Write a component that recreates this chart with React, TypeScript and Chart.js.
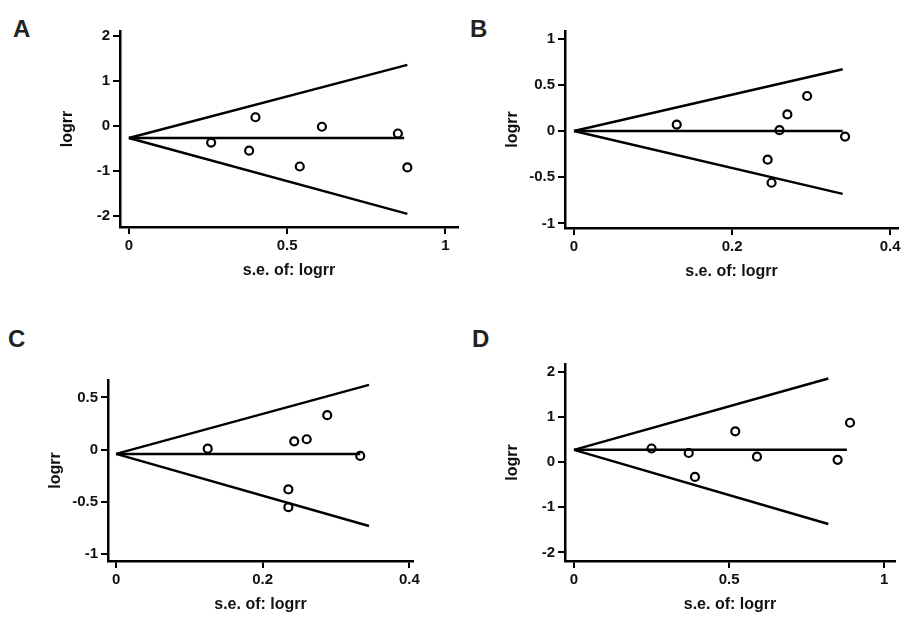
import { useEffect, useRef } from "react";
import { Chart, registerables } from "chart.js";

Chart.register(...registerables);

// Panel A
const seA = [0.26, 0.38, 0.4, 0.54, 0.61, 0.85, 0.88];
const lrA = [-0.37, -0.55, 0.19, -0.9, -0.02, -0.17, -0.92];
// Panel B
const seB = [0.13, 0.245, 0.25, 0.26, 0.27, 0.295, 0.343];
const lrB = [0.07, -0.31, -0.56, 0.01, 0.18, 0.38, -0.06];
// Panel C
const seC = [0.125, 0.235, 0.235, 0.243, 0.26, 0.288, 0.333];
const lrC = [0.01, -0.38, -0.55, 0.08, 0.1, 0.33, -0.06];
// Panel D
const seD = [0.25, 0.37, 0.39, 0.52, 0.59, 0.85, 0.89];
const lrD = [0.3, 0.2, -0.33, 0.68, 0.12, 0.05, 0.87];

// funnel: [vertex y, end x, upper y, lower y, mean end x]
const funnelA = [-0.27, 0.88, 1.35, -1.95, 0.87];
const funnelB = [0.0, 0.34, 0.67, -0.68, 0.34];
const funnelC = [-0.04, 0.345, 0.62, -0.73, 0.333];
const funnelD = [0.27, 0.82, 1.85, -1.37, 0.88];

const xTicksA = [0, 0.5, 1];
const xTicksB = [0, 0.2, 0.4];
const yTicksA = [-2, -1, 0, 1, 2];
const yTicksB = [-1, -0.5, 0, 0.5, 1];
const yTicksC = [-1, -0.5, 0, 0.5];

const FONT = "'Liberation Sans', Arial, sans-serif";
const YW = 62;
const XH = 57;

type PanelProps = {
  letter: string;
  letterPos: [number, number];
  box: [number, number, number, number]; // axisX, axisTop, axisRight, axisBottom
  xRange: [number, number];
  yRange: [number, number];
  xTicks: number[];
  yTicks: number[];
  se: number[];
  lr: number[];
  funnel: number[];
};

function Panel(p: PanelProps) {
  const ref = useRef<HTMLCanvasElement>(null);
  const [ax, at, ar, ab] = p.box;
  const left = ax - YW;
  const top = at - 6;
  const width = ar - left + 12;
  const height = ab + XH - top;

  useEffect(() => {
    if (!ref.current) return;
    const [v, ex, up, lo, mx] = p.funnel;
    const line = (data: { x: number; y: number }[]) => ({
      type: "line" as const,
      data,
      borderColor: "#000",
      borderWidth: 2.5,
      pointRadius: 0,
      fill: false,
    });
    const tickFmt = (val: any) => String(Number(val));
    const chart = new Chart(ref.current, {
      type: "scatter",
      data: {
        datasets: [
          line([{ x: 0, y: v }, { x: ex, y: up }]),
          line([{ x: 0, y: v }, { x: ex, y: lo }]),
          line([{ x: 0, y: v }, { x: mx, y: v }]),
          {
            type: "scatter",
            data: p.se.map((x, i) => ({ x, y: p.lr[i] })),
            pointStyle: "circle",
            pointRadius: 4,
            borderColor: "#000",
            borderWidth: 2.2,
            backgroundColor: "#fff",
          },
        ],
      },
      options: {
        animation: false,
        responsive: false,
        layout: { padding: { top: 6, right: 12, left: 0, bottom: 0 } },
        plugins: { legend: { display: false }, tooltip: { enabled: false } },
        scales: {
          x: {
            type: "linear",
            min: p.xRange[0],
            max: p.xRange[1],
            afterBuildTicks: (s: any) => {
              s.ticks = p.xTicks.map((value) => ({ value }));
            },
            afterFit: (s: any) => {
              s.height = XH;
            },
            ticks: { color: "#111", font: { family: FONT, size: 15, weight: "bold" }, callback: tickFmt, padding: 3 },
            grid: { drawOnChartArea: false, color: "#000", lineWidth: 2, tickLength: 7 },
            border: { color: "#000", width: 2.5 },
            title: { display: true, text: "s.e. of: logrr", color: "#111", font: { family: FONT, size: 16, weight: "bold" }, padding: { top: 5 } },
          },
          y: {
            type: "linear",
            min: p.yRange[0],
            max: p.yRange[1],
            afterBuildTicks: (s: any) => {
              s.ticks = p.yTicks.map((value) => ({ value }));
            },
            afterFit: (s: any) => {
              s.width = YW;
            },
            ticks: { color: "#111", font: { family: FONT, size: 15, weight: "bold" }, callback: tickFmt, padding: 3 },
            grid: { drawOnChartArea: false, color: "#000", lineWidth: 2, tickLength: 7 },
            border: { color: "#000", width: 2.5 },
            title: { display: true, text: "logrr", color: "#111", font: { family: FONT, size: 16, weight: "bold" }, padding: 0 },
          },
        },
      },
    } as any);
    return () => chart.destroy();
  }, []);

  return (
    <>
      <div
        style={{
          position: "absolute",
          left: p.letterPos[0],
          top: p.letterPos[1],
          font: `bold 24px ${FONT}`,
          color: "#222",
        }}
      >
        {p.letter}
      </div>
      <canvas
        ref={ref}
        width={width}
        height={height}
        style={{ position: "absolute", left, top, width, height }}
      />
    </>
  );
}

export default function App() {
  return (
    <div style={{ position: "absolute", left: 0, top: 0, width: 905, height: 620, background: "#fff", overflow: "hidden" }}>
      <Panel letter="A" letterPos={[13, 15]} box={[120, 25, 458, 227]} xRange={[-0.028, 1.04]} yRange={[-2.24, 2.1]}
        xTicks={xTicksA} yTicks={yTicksA} se={seA} lr={lrA} funnel={funnelA} />
      <Panel letter="B" letterPos={[470, 15]} box={[565, 25, 898, 228]} xRange={[-0.0114, 0.41]} yRange={[-1.05, 1.084]}
        xTicks={xTicksB} yTicks={yTicksB} se={seB} lr={lrB} funnel={funnelB} />
      <Panel letter="C" letterPos={[8, 325]} box={[108, 374, 413, 561]} xRange={[-0.011, 0.405]} yRange={[-1.065, 0.667]}
        xTicks={xTicksB} yTicks={yTicksC} se={seC} lr={lrC} funnel={funnelC} />
      <Panel letter="D" letterPos={[472, 325]} box={[565, 358, 895, 561]} xRange={[-0.029, 1.035]} yRange={[-2.19, 2.17]}
        xTicks={xTicksA} yTicks={yTicksA} se={seD} lr={lrD} funnel={funnelD} />
    </div>
  );
}
